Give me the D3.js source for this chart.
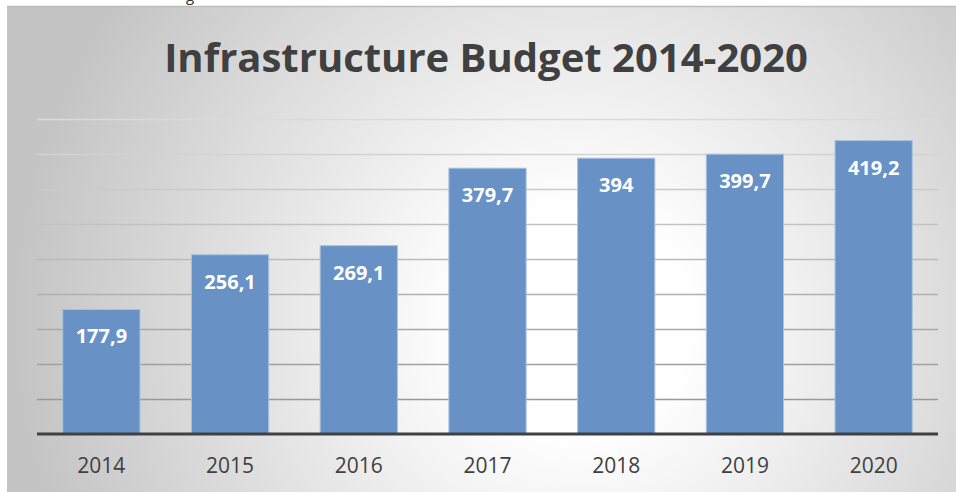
<!DOCTYPE html>
<html>
<head>
<meta charset="utf-8">
<script src="https://cdn.jsdelivr.net/npm/d3@7"></script>
<style>
  html, body { margin: 0; padding: 0; background: #ffffff; }
  svg { display: block; }
</style>
</head>
<body>
<svg id="chart" width="956" height="492"></svg>
<script>
// Infrastructure budget per year
const years = ["2014", "2015", "2016", "2017", "2018", "2019", "2020"];
const budget = [177.9, 256.1, 269.1, 379.7, 394, 399.7, 419.2];
const valueLabels = ["177,9", "256,1", "269,1", "379,7", "394", "399,7", "419,2"];
const gridTicks = [0, 50, 100, 150, 200, 250, 300, 350, 400, 450];
const chartTitle = "Infrastructure Budget 2014-2020";

const W = 956, H = 492;
const svg = d3.select("#chart");
const defs = svg.append("defs");

// soft radial backdrop of the chart area
const bg = defs.append("radialGradient")
  .attr("id", "bg")
  .attr("gradientUnits", "userSpaceOnUse")
  .attr("cx", 575).attr("cy", 320).attr("r", 560);
bg.append("stop").attr("offset", 0).attr("stop-color", "#ffffff");
bg.append("stop").attr("offset", 0.2).attr("stop-color", "#ffffff");
bg.append("stop").attr("offset", 1).attr("stop-color", "#c4c4c4");

// tail of the text line sitting above the chart frame
svg.append("text")
  .attr("x", 186).attr("y", 1)
  .attr("font-family", "Open Sans, sans-serif")
  .attr("font-size", 15)
  .attr("fill", "#333")
  .text("g");

const frame = { x: 7, y: 6 };
svg.append("rect")
  .attr("x", frame.x).attr("y", frame.y)
  .attr("width", W - frame.x + 10).attr("height", H - frame.y + 10)
  .attr("fill", "url(#bg)");
svg.append("line")
  .attr("x1", frame.x).attr("x2", W)
  .attr("y1", frame.y + 0.5).attr("y2", frame.y + 0.5)
  .attr("stroke", "#bdbdbd").attr("stroke-width", 1.5);

const plot = { left: 37, right: 938, top: 119, bottom: 434 };

const x = d3.scaleBand()
  .domain(years)
  .range([plot.left, plot.right])
  .paddingInner(0.4)
  .paddingOuter(0.2);

const y = d3.scaleLinear()
  .domain([0, 450])
  .range([plot.bottom, plot.top]);

// horizontal gridlines, fading lighter toward the top
const gridColor = d3.scaleLinear().domain([50, 450]).range(["#999999", "#dadada"]);
svg.append("g")
  .selectAll("line")
  .data(gridTicks.filter(d => d > 0))
  .join("line")
  .attr("x1", plot.left).attr("x2", plot.right)
  .attr("y1", d => Math.round(y(d)) + 0.5)
  .attr("y2", d => Math.round(y(d)) + 0.5)
  .attr("stroke", d => gridColor(d))
  .attr("stroke-width", 1.5);

// bars
svg.append("g")
  .selectAll("rect")
  .data(budget)
  .join("rect")
  .attr("x", (d, i) => x(years[i]))
  .attr("y", d => y(d))
  .attr("width", x.bandwidth())
  .attr("height", d => y(0) - y(d))
  .attr("fill", "#6892c5")
  .attr("stroke", "#a9c1e0")
  .attr("stroke-width", 1);

// value labels inside the bars
svg.append("g")
  .selectAll("text")
  .data(budget)
  .join("text")
  .attr("x", (d, i) => x(years[i]) + x.bandwidth() / 2)
  .attr("y", d => y(d) + 34)
  .attr("text-anchor", "middle")
  .attr("font-family", "Open Sans, sans-serif")
  .attr("font-weight", "bold")
  .attr("font-size", 20)
  .attr("fill", "#ffffff")
  .text((d, i) => valueLabels[i]);

// category axis
const xAxis = svg.append("g")
  .attr("transform", `translate(0,${plot.bottom})`)
  .call(d3.axisBottom(x).tickSize(0).tickPadding(0));
xAxis.select(".domain").remove();
xAxis.selectAll("text")
  .attr("dy", 0)
  .attr("y", 39)
  .attr("font-family", "Open Sans, sans-serif")
  .attr("font-size", 21)
  .attr("fill", "#404040");

svg.append("line")
  .attr("x1", plot.left).attr("x2", plot.right)
  .attr("y1", plot.bottom).attr("y2", plot.bottom)
  .attr("stroke", "#404040").attr("stroke-width", 3);

// title
svg.append("text")
  .attr("x", 486).attr("y", 72)
  .attr("text-anchor", "middle")
  .attr("font-family", "Open Sans, sans-serif")
  .attr("font-weight", "bold")
  .attr("font-size", 40)
  .attr("fill", "#404040")
  .text(chartTitle);
</script>
</body>
</html>
